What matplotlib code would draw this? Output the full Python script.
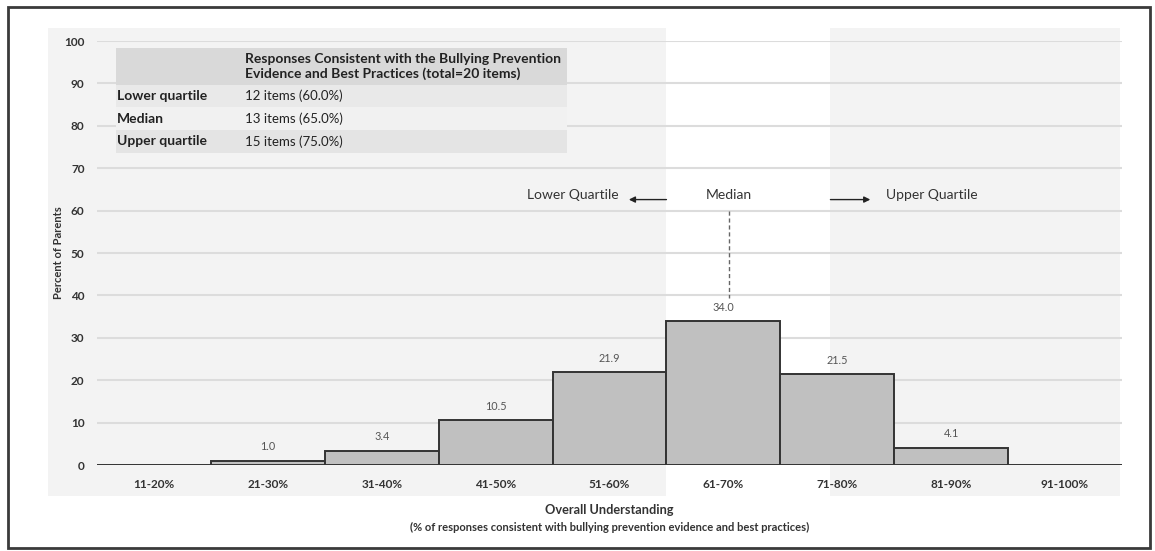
"""
Overall understanding histogram — percent of parents by score band.
"""

import matplotlib
import matplotlib.pyplot as plt
from matplotlib.patches import Rectangle
from matplotlib.transforms import blended_transform_factory

matplotlib.use("Agg")

plt.rcParams["font.family"] = ["Lato", "DejaVu Sans"]

# ── data ─────────────────────────────────────────────────────────
categories = ["11-20%", "21-30%", "31-40%", "41-50%", "51-60%",
              "61-70%", "71-80%", "81-90%", "91-100%"]
percent_parents = [0, 1.0, 3.4, 10.5, 21.9, 34.0, 21.5, 4.1, 0]

y_ticks = [0, 10, 20, 30, 40, 50, 60, 70, 80, 90, 100]

table_header = ("Responses Consistent with the Bullying Prevention\n"
                "Evidence and Best Practices (total=20 items)")
table_labels = ["Lower quartile", "Median", "Upper quartile"]
table_values = ["12 items (60.0%)", "13 items (65.0%)", "15 items (75.0%)"]

# quartile positions on the category axis
lower_q_x = 4.5
median_x = 5.05
upper_q_x = 5.94

# ── figure ───────────────────────────────────────────────────────
W, H = 1155, 551
fig = plt.figure(figsize=(W / 100, H / 100), dpi=100)
fig.patch.set_facecolor("white")
ax = fig.add_axes([97 / W, 1 - 465 / H, (1122 - 97) / W, (465 - 41) / H])
ax.patch.set_visible(False)

x = list(range(len(categories)))
ax.set_xlim(-0.5, len(categories) - 0.5)
ax.set_ylim(0, 100)

# shaded background panels (outside the quartile range)
bt = blended_transform_factory(ax.transData, fig.transFigure)
panel_y0, panel_y1 = 1 - 496 / H, 1 - 28 / H
panel_left, panel_right = -0.93, 8.48
for x0, x1 in [(panel_left, lower_q_x), (upper_q_x, panel_right)]:
    ax.add_patch(Rectangle((x0, panel_y0), x1 - x0, panel_y1 - panel_y0,
                           transform=bt, facecolor="#f3f3f3", edgecolor="none",
                           zorder=0.1, clip_on=False))

# gridlines
ax.set_axisbelow(True)
ax.set_yticks(y_ticks)
ax.yaxis.grid(True, color="#dcdcdc", linewidth=1.5)
for s in ax.spines.values():
    s.set_visible(False)
ax.tick_params(axis="both", length=0, colors="#333333")
ax.tick_params(axis="y", pad=9, labelsize=8.5)
ax.tick_params(axis="x", pad=10, labelsize=8.5)
for lbl in ax.get_yticklabels():
    lbl.set_fontweight("bold")

# bars
ax.bar(x, percent_parents, width=1.0, color="#c0c0c0",
       edgecolor="#333333", linewidth=1.4, zorder=3)
for xi, v in zip(x, percent_parents):
    if v > 0:
        ax.annotate(f"{v:.1f}", (xi, v), xytext=(0, 6),
                    textcoords="offset points", ha="center", va="bottom",
                    fontsize=7.8, color="#555555")

ax.set_xticks(x)
ax.set_xticklabels(categories, fontweight="bold")

# axis titles
ax.set_ylabel("Percent of Parents", fontsize=8, fontweight="bold",
              color="#333333", labelpad=0)
fig.text((97 + 1122) / 2 / W, 1 - 510 / H, "Overall Understanding",
         ha="center", va="center", fontsize=9.2, fontweight="bold",
         color="#333333")
fig.text((97 + 1122) / 2 / W, 1 - 527 / H,
         "(% of responses consistent with bullying prevention evidence "
         "and best practices)",
         ha="center", va="center", fontsize=8, fontweight="bold",
         color="#333333")

# ── quartile markers ─────────────────────────────────────────────
text_y = 63.6
ax.text(median_x, text_y, "Median", ha="center", va="center",
        fontsize=10, color="#333333", zorder=4)
ax.text(4.08, text_y, "Lower Quartile", ha="right", va="center",
        fontsize=10, color="#333333", zorder=4)
ax.text(6.43, text_y, "Upper Quartile", ha="left", va="center",
        fontsize=10, color="#333333", zorder=4)
ax.annotate("", xy=(4.17, text_y - 1.0), xytext=(lower_q_x, text_y - 1.0),
            arrowprops=dict(arrowstyle="-|>", color="#222222", lw=1,
                            mutation_scale=9, shrinkA=0, shrinkB=0))
ax.annotate("", xy=(6.29, text_y - 1.0), xytext=(upper_q_x, text_y - 1.0),
            arrowprops=dict(arrowstyle="-|>", color="#222222", lw=1,
                            mutation_scale=9, shrinkA=0, shrinkB=0))
ax.plot([median_x, median_x], [60, 39.5], color="#666666", lw=1,
        linestyle=(0, (3, 2)), zorder=4)

# ── summary table (top-left) ─────────────────────────────────────
tx0, tx1 = 0.0185, 0.4585
row_edges = [0.983, 0.896, 0.844, 0.790, 0.736]
row_colors = ["#d9d9d9", "#e9e9e9", "#f1f1f1", "#e4e4e4"]
for i, c in enumerate(row_colors):
    ax.add_patch(Rectangle((tx0, row_edges[i + 1]), tx1 - tx0,
                           row_edges[i] - row_edges[i + 1],
                           transform=ax.transAxes, facecolor=c,
                           edgecolor="none", zorder=2))

label_x, value_x = 0.0195, 0.1444
ax.text(value_x, (row_edges[0] + row_edges[1]) / 2, table_header,
        transform=ax.transAxes, ha="left", va="center", fontsize=10,
        fontweight="bold", color="#222222", linespacing=1.2, zorder=3)
for i, (lab, val) in enumerate(zip(table_labels, table_values)):
    yc = (row_edges[i + 1] + row_edges[i + 2]) / 2
    ax.text(label_x, yc, lab, transform=ax.transAxes, ha="left",
            va="center", fontsize=10, fontweight="bold", color="#222222",
            zorder=3)
    ax.text(value_x, yc, val, transform=ax.transAxes, ha="left",
            va="center", fontsize=9.5, color="#222222", zorder=3)

# outer frame
fig.patches.append(Rectangle((8 / W, 1 - 548 / H), (1150 - 8) / W,
                             (548 - 7) / H, transform=fig.transFigure,
                             facecolor="none", edgecolor="#3a3a3a",
                             linewidth=2, zorder=10))

fig.savefig("out.png", dpi=100, facecolor="white")
plt.close(fig)
